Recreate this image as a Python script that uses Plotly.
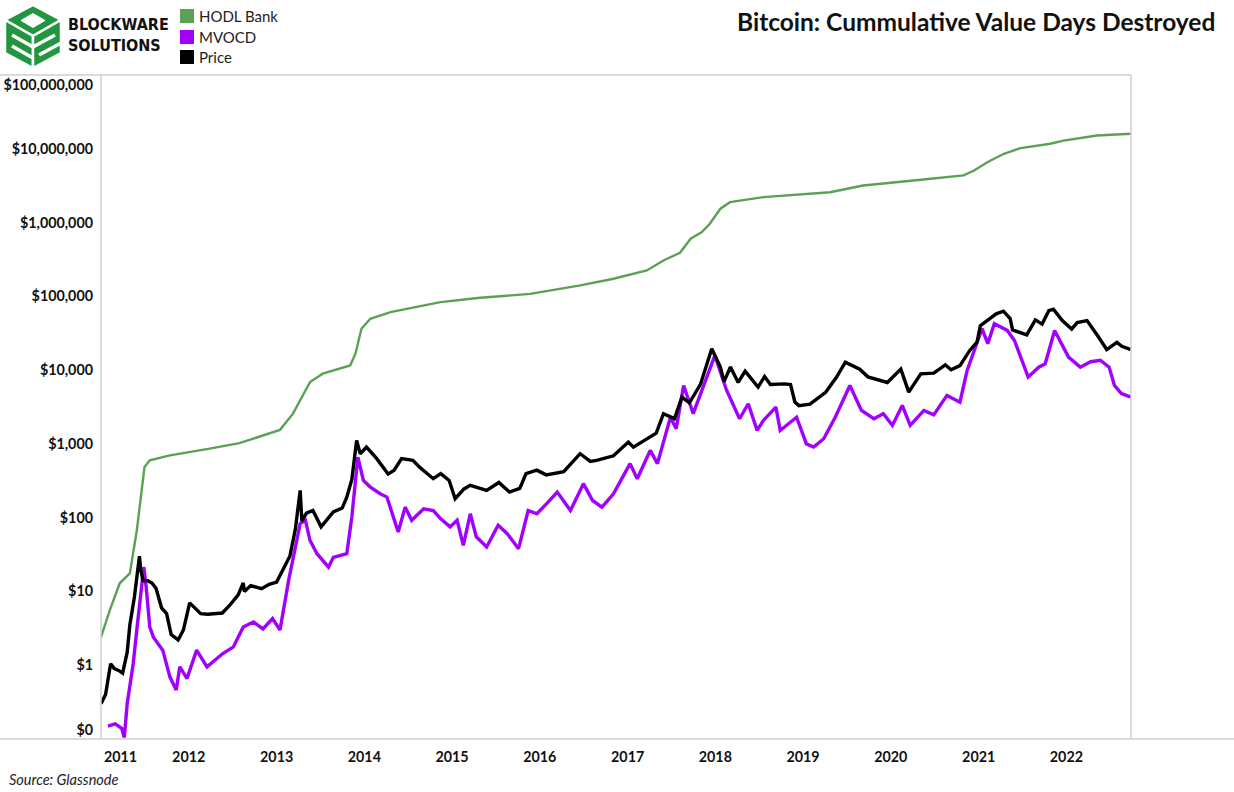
import plotly.graph_objects as go

# ---------------- data ----------------
hodl_dates = ["2011-01-01", "2011-02-06", "2011-03-20", "2011-05-01", "2011-05-30", "2011-06-17",
              "2011-07-01", "2011-07-23", "2011-10-15", "2012-03-28", "2012-07-30", "2013-01-15",
              "2013-03-10", "2013-05-01", "2013-05-20", "2013-07-12", "2013-11-03", "2013-11-25",
              "2013-12-20", "2014-01-26", "2014-04-20", "2014-11-14", "2015-04-28", "2015-11-22",
              "2016-06-18", "2016-11-03", "2017-03-22", "2017-05-30", "2017-08-07", "2017-09-20",
              "2017-11-06", "2017-12-09", "2018-01-22", "2018-03-03", "2018-07-20", "2019-04-23",
              "2019-07-01", "2019-09-08", "2020-04-05", "2020-10-30", "2020-12-13", "2021-02-06",
              "2021-04-16", "2021-06-24", "2021-10-26", "2021-12-20", "2022-05-08", "2022-09-27"]
hodl_values = [2.4, 5.5, 12.9, 17.6, 67, 190,
               485, 598, 698, 861, 1023, 1550,
               2566, 5300, 6880, 8940, 11580, 16680,
               36400, 49700, 61100, 83400, 95500, 108000,
               140600, 173000, 224000, 306000, 390000, 603000,
               741000, 964000, 1540000, 1890000, 2210000, 2580000,
               2870000, 3180000, 3720000, 4350000, 5080000, 6580000,
               8550000, 10200000, 11700000, 12900000, 15100000, 16000000]

price_dates = ["2011-01-01", "2011-01-20", "2011-02-10", "2011-02-25", "2011-03-15", "2011-04-01",
               "2011-04-20", "2011-05-01", "2011-05-20", "2011-06-02", "2011-06-10", "2011-06-15",
               "2011-06-25", "2011-07-15", "2011-08-01", "2011-08-18", "2011-09-10", "2011-10-01",
               "2011-10-20", "2011-11-18", "2011-12-10", "2012-01-05", "2012-02-20", "2012-03-20",
               "2012-05-20", "2012-06-20", "2012-07-25", "2012-08-15", "2012-08-20", "2012-09-15",
               "2012-10-30", "2012-12-01", "2013-01-01", "2013-02-25", "2013-03-20", "2013-04-09",
               "2013-04-16", "2013-05-05", "2013-06-01", "2013-07-05", "2013-08-25", "2013-10-01",
               "2013-10-20", "2013-11-10", "2013-11-30", "2013-12-15", "2014-01-10", "2014-02-20",
               "2014-04-10", "2014-05-05", "2014-06-05", "2014-07-22", "2014-08-20", "2014-09-18",
               "2014-10-15", "2014-11-15", "2014-12-20", "2015-01-14", "2015-02-20", "2015-03-18",
               "2015-05-25", "2015-07-15", "2015-08-28", "2015-10-10", "2015-11-05", "2015-12-20",
               "2016-01-28", "2016-04-10", "2016-06-17", "2016-07-30", "2016-08-25", "2016-11-03",
               "2017-01-04", "2017-01-25", "2017-03-22", "2017-04-30", "2017-05-30", "2017-07-15",
               "2017-08-15", "2017-09-15", "2017-10-31", "2017-12-17", "2018-01-22", "2018-02-06",
               "2018-03-05", "2018-04-06", "2018-05-05", "2018-06-28", "2018-07-25", "2018-08-18",
               "2018-10-15", "2018-11-10", "2018-11-28", "2018-12-15", "2019-01-30", "2019-04-05",
               "2019-05-20", "2019-06-26", "2019-08-25", "2019-09-28", "2019-12-18", "2020-02-12",
               "2020-03-16", "2020-05-05", "2020-06-28", "2020-08-15", "2020-09-08", "2020-10-15",
               "2020-11-25", "2020-12-25", "2021-01-08", "2021-02-12", "2021-03-15", "2021-04-14",
               "2021-05-12", "2021-05-22", "2021-06-22", "2021-07-20", "2021-08-25", "2021-09-22",
               "2021-10-20", "2021-11-08", "2021-12-15", "2022-01-23", "2022-02-15", "2022-03-28",
               "2022-05-12", "2022-06-18", "2022-07-30", "2022-08-20", "2022-09-27"]
price_values = [0.30, 0.40, 1.05, 0.90, 0.85, 0.78,
                1.5, 3.5, 8.4, 18, 30, 20,
                14, 14, 13, 11, 6, 5,
                2.6, 2.2, 3.0, 7.0, 5.0, 4.9,
                5.1, 6.5, 9, 13, 10, 12,
                10.9, 12.5, 13.4, 30, 70, 234,
                90, 115, 125, 75, 120, 135,
                190, 330, 1115, 736, 905, 640,
                390, 440, 630, 600, 480, 400,
                337, 395, 320, 181, 245, 274,
                234, 300, 222, 250, 395, 440,
                380, 420, 736, 580, 598, 690,
                1057, 905, 1175, 1400, 2566, 2200,
                4300, 3600, 6400, 19500, 11000, 7000,
                11000, 6800, 9700, 5900, 8200, 6400,
                6500, 6350, 3700, 3300, 3450, 5000,
                8000, 12800, 10300, 8100, 6800, 10300,
                5030, 8900, 9100, 11800, 10100, 11500,
                18500, 24000, 40000, 48000, 58000, 63000,
                50000, 35000, 32000, 30000, 48000, 42000,
                64000, 67000, 47000, 36000, 44000, 47000,
                29000, 19000, 23800, 21000, 19000]

mvocd_dates = ["2011-01-30", "2011-03-01", "2011-03-28", "2011-04-08", "2011-04-20", "2011-05-15",
               "2011-05-30", "2011-06-10", "2011-06-28", "2011-07-08", "2011-07-23", "2011-08-07",
               "2011-09-15", "2011-10-15", "2011-11-10", "2011-11-25", "2011-12-25", "2012-02-03",
               "2012-03-17", "2012-05-22", "2012-07-05", "2012-08-15", "2012-09-27", "2012-11-05",
               "2012-12-15", "2013-01-15", "2013-02-20", "2013-04-09", "2013-05-01", "2013-05-20",
               "2013-06-18", "2013-08-05", "2013-08-25", "2013-10-20", "2013-11-10", "2013-12-05",
               "2013-12-28", "2014-01-26", "2014-03-08", "2014-04-05", "2014-05-22", "2014-06-20",
               "2014-07-17", "2014-09-05", "2014-10-15", "2014-11-14", "2014-12-24", "2015-01-22",
               "2015-02-17", "2015-03-18", "2015-04-12", "2015-05-25", "2015-07-12", "2015-08-18",
               "2015-10-05", "2015-11-14", "2015-12-20", "2016-01-30", "2016-03-14", "2016-05-08",
               "2016-07-01", "2016-08-08", "2016-09-16", "2016-11-03", "2017-01-11", "2017-02-10",
               "2017-04-05", "2017-05-05", "2017-06-28", "2017-07-22", "2017-08-22", "2017-10-01",
               "2017-10-31", "2017-12-30", "2018-02-17", "2018-04-12", "2018-05-18", "2018-06-24",
               "2018-07-20", "2018-09-10", "2018-09-28", "2018-12-05", "2019-01-15", "2019-02-14",
               "2019-03-28", "2019-05-15", "2019-07-15", "2019-09-01", "2019-10-23", "2019-12-01",
               "2020-01-08", "2020-02-18", "2020-03-22", "2020-05-18", "2020-06-28", "2020-08-22",
               "2020-10-15", "2020-11-14", "2021-01-15", "2021-02-08", "2021-03-07", "2021-04-30",
               "2021-05-30", "2021-07-08", "2021-07-26", "2021-09-08", "2021-10-05", "2021-11-13",
               "2022-01-10", "2022-02-28", "2022-04-12", "2022-05-22", "2022-06-28", "2022-07-20",
               "2022-08-18", "2022-09-27"]
mvocd_values = [0.15, 0.16, 0.14, 0.105, 0.3, 1.05,
                3, 6.8, 21.4, 11.5, 3.3, 2.4,
                1.6, 0.69, 0.46, 0.95, 0.66, 1.6,
                0.95, 1.44, 1.77, 3.3, 3.85, 3.1,
                4.3, 3.0, 14.1, 83, 92, 49,
                32.5, 21.4, 29, 32.5, 102, 662,
                320, 260, 211, 190, 64, 139,
                92, 132, 125, 97, 75, 92,
                42, 113, 55, 40, 79, 61,
                38, 125, 113, 155, 222, 125,
                289, 171, 139, 211, 540, 337,
                817, 540, 2300, 1607, 6200, 2566,
                4800, 15800, 5300, 2190, 3500, 1520,
                2080, 3150, 1520, 2300, 1000, 905,
                1175, 2300, 6200, 2840, 2190, 2566,
                1780, 3320, 1780, 2840, 2470, 4540,
                3680, 9900, 36400, 22800, 42500, 34500,
                25200, 10970, 8040, 10970, 12200, 34500,
                15000, 10970, 13000, 13600, 10970, 6200,
                4800, 4300]

year_labels = ["2011", "2012", "2013", "2014", "2015", "2016", "2017", "2018", "2019", "2020", "2021", "2022"]
year_ticks = ["2011-03-23", "2012-01-01", "2013-01-01", "2014-01-01", "2015-01-01", "2016-01-01",
              "2017-01-01", "2018-01-01", "2019-01-01", "2020-01-01", "2021-01-01", "2022-01-01"]
y_tick_labels = ["$0", "$1", "$10", "$100", "$1,000", "$10,000", "$100,000",
                 "$1,000,000", "$10,000,000", "$100,000,000"]

# ---------------- styling ----------------
GREEN = "#5AA154"
PURPLE = "#A100FF"
BLACK = "#000000"
LOGO_GREEN = "#22953F"
FONT = "Lato"

L, R, T, B = 101, 103, 75, 53
W, H = 1234, 792
PW, PH = W - L - R, H - T - B


def px(x):
    return (x - L) / PW


def py(y):
    return (H - B - y) / PH


fig = go.Figure()
fig.add_trace(go.Scatter(x=hodl_dates, y=hodl_values, mode="lines", name="HODL Bank",
                         line=dict(color=GREEN, width=2.4), showlegend=False))
fig.add_trace(go.Scatter(x=mvocd_dates, y=mvocd_values, mode="lines", name="MVOCD",
                         line=dict(color=PURPLE, width=3.4), showlegend=False))
fig.add_trace(go.Scatter(x=price_dates, y=price_values, mode="lines", name="Price",
                         line=dict(color=BLACK, width=3.4), showlegend=False))

# tick positions: decades; the end labels sit slightly inside the plot
decades = [10.0 ** k for k in range(-1, 9)]
label_pos = list(decades)
label_pos[0] = 10 ** (-1 + 9.5 / 73.8)
label_pos[-1] = 10 ** (8 - 9.5 / 73.8)

tickfont = dict(family=FONT, size=14.3, color="#111111", weight="bold")

fig.update_layout(
    width=W, height=H,
    margin=dict(l=L, r=R, t=T, b=B, pad=0, autoexpand=False),
    paper_bgcolor="white", plot_bgcolor="white",
    font=dict(family=FONT),
    xaxis=dict(type="date", range=["2011-01-01", "2022-09-27"], showgrid=False, showline=False,
               zeroline=False, tickvals=year_ticks, ticktext=year_labels, ticks="",
               tickfont=tickfont, ticklabelstandoff=8, automargin=False),
    yaxis=dict(type="log", range=[-1, 8], showgrid=False, showline=False, zeroline=False,
               tickvals=label_pos, ticktext=y_tick_labels, ticks="", tickfont=tickfont,
               ticklabelstandoff=7, automargin=False),
    yaxis2=dict(type="log", range=[-1, 8], overlaying="y", side="right", showgrid=False,
                showline=False, zeroline=False, tickvals=label_pos, ticktext=y_tick_labels,
                ticks="", tickfont=tickfont, ticklabelstandoff=5, automargin=False),
    yaxis3=dict(type="log", range=[-1, 8], overlaying="y", side="left", showgrid=True,
                gridcolor="#EBEBEB", gridwidth=1, showline=False, zeroline=False,
                tickvals=decades, showticklabels=False, ticks="", automargin=False),
)

shapes = []
line_col = "#CFCFCF"
# frame lines
shapes.append(dict(type="line", xref="paper", yref="paper", x0=px(0), x1=px(W), y0=0, y1=0,
                   line=dict(color=line_col, width=1.5)))
shapes.append(dict(type="line", xref="paper", yref="paper", x0=px(0), x1=1, y0=1, y1=1,
                   line=dict(color=line_col, width=1.5)))
shapes.append(dict(type="line", xref="paper", yref="paper", x0=0, x1=0, y0=0, y1=1,
                   line=dict(color=line_col, width=1.5)))
shapes.append(dict(type="line", xref="paper", yref="paper", x0=1, x1=1, y0=0, y1=1,
                   line=dict(color=line_col, width=1.5)))


def path(points):
    return "M " + " L ".join(f"{px(x):.5f},{py(y):.5f}" for x, y in points) + " Z"


# logo: isometric cube
Tp, UR, LR, Bt, LL, UL, C = (33, 5), (61, 20), (61, 53), (33, 68), (5, 53), (5, 20), (33, 36)
for face in [(Tp, UR, C, UL), (UL, C, Bt, LL), (C, UR, LR, Bt)]:
    shapes.append(dict(type="path", xref="paper", yref="paper", path=path(face),
                       fillcolor=LOGO_GREEN, line=dict(color="white", width=2.5)))
shapes.append(dict(type="path", xref="paper", yref="paper",
                   path=path([(33, 13.5), (45, 20.5), (33, 27.5), (21, 20.5)]),
                   fillcolor="white", line=dict(color="white", width=1)))
for seg in [((12, 35), (33, 47)), ((12, 46), (33, 58)), ((33, 47), (55, 35)), ((39, 55), (61, 43))]:
    (x0, y0), (x1, y1) = seg
    shapes.append(dict(type="line", xref="paper", yref="paper", x0=px(x0), y0=py(y0),
                       x1=px(x1), y1=py(y1), line=dict(color="white", width=3.5)))

# legend squares
legend_items = [("HODL Bank", GREEN, 16), ("MVOCD", PURPLE, 37), ("Price", BLACK, 57)]
annotations = []
for name, col, yc in legend_items:
    shapes.append(dict(type="rect", xref="paper", yref="paper", x0=px(180), x1=px(194),
                       y0=py(yc - 7), y1=py(yc + 7), fillcolor=col, line=dict(width=0)))
    annotations.append(dict(xref="paper", yref="paper", x=px(197), y=py(yc), text=name,
                            showarrow=False, xanchor="left", yanchor="middle",
                            font=dict(family=FONT, size=15, color="#222222")))

LOGO_FONT = dict(family="DejaVu Sans Condensed, DejaVu Sans", size=16, color="#111111",
                 weight="bold")
annotations.append(dict(xref="paper", yref="paper", x=px(66), y=py(25), text="BLOCKWARE",
                        showarrow=False, xanchor="left", yanchor="middle", font=LOGO_FONT))
annotations.append(dict(xref="paper", yref="paper", x=px(66), y=py(45), text="SOLUTIONS",
                        showarrow=False, xanchor="left", yanchor="middle", font=LOGO_FONT))
annotations.append(dict(xref="paper", yref="paper", x=px(1217), y=py(22),
                        text="Bitcoin: Cummulative Value Days Destroyed",
                        showarrow=False, xanchor="right", yanchor="middle",
                        font=dict(family=FONT, size=24.5, color="#111111", weight="bold")))
annotations.append(dict(xref="paper", yref="paper", x=px(7), y=py(779),
                        text="<i>Source: Glassnode</i>",
                        showarrow=False, xanchor="left", yanchor="middle",
                        font=dict(family=FONT, size=14.5, color="#222222")))

fig.update_layout(shapes=shapes, annotations=annotations)
fig.write_html("out.html")
